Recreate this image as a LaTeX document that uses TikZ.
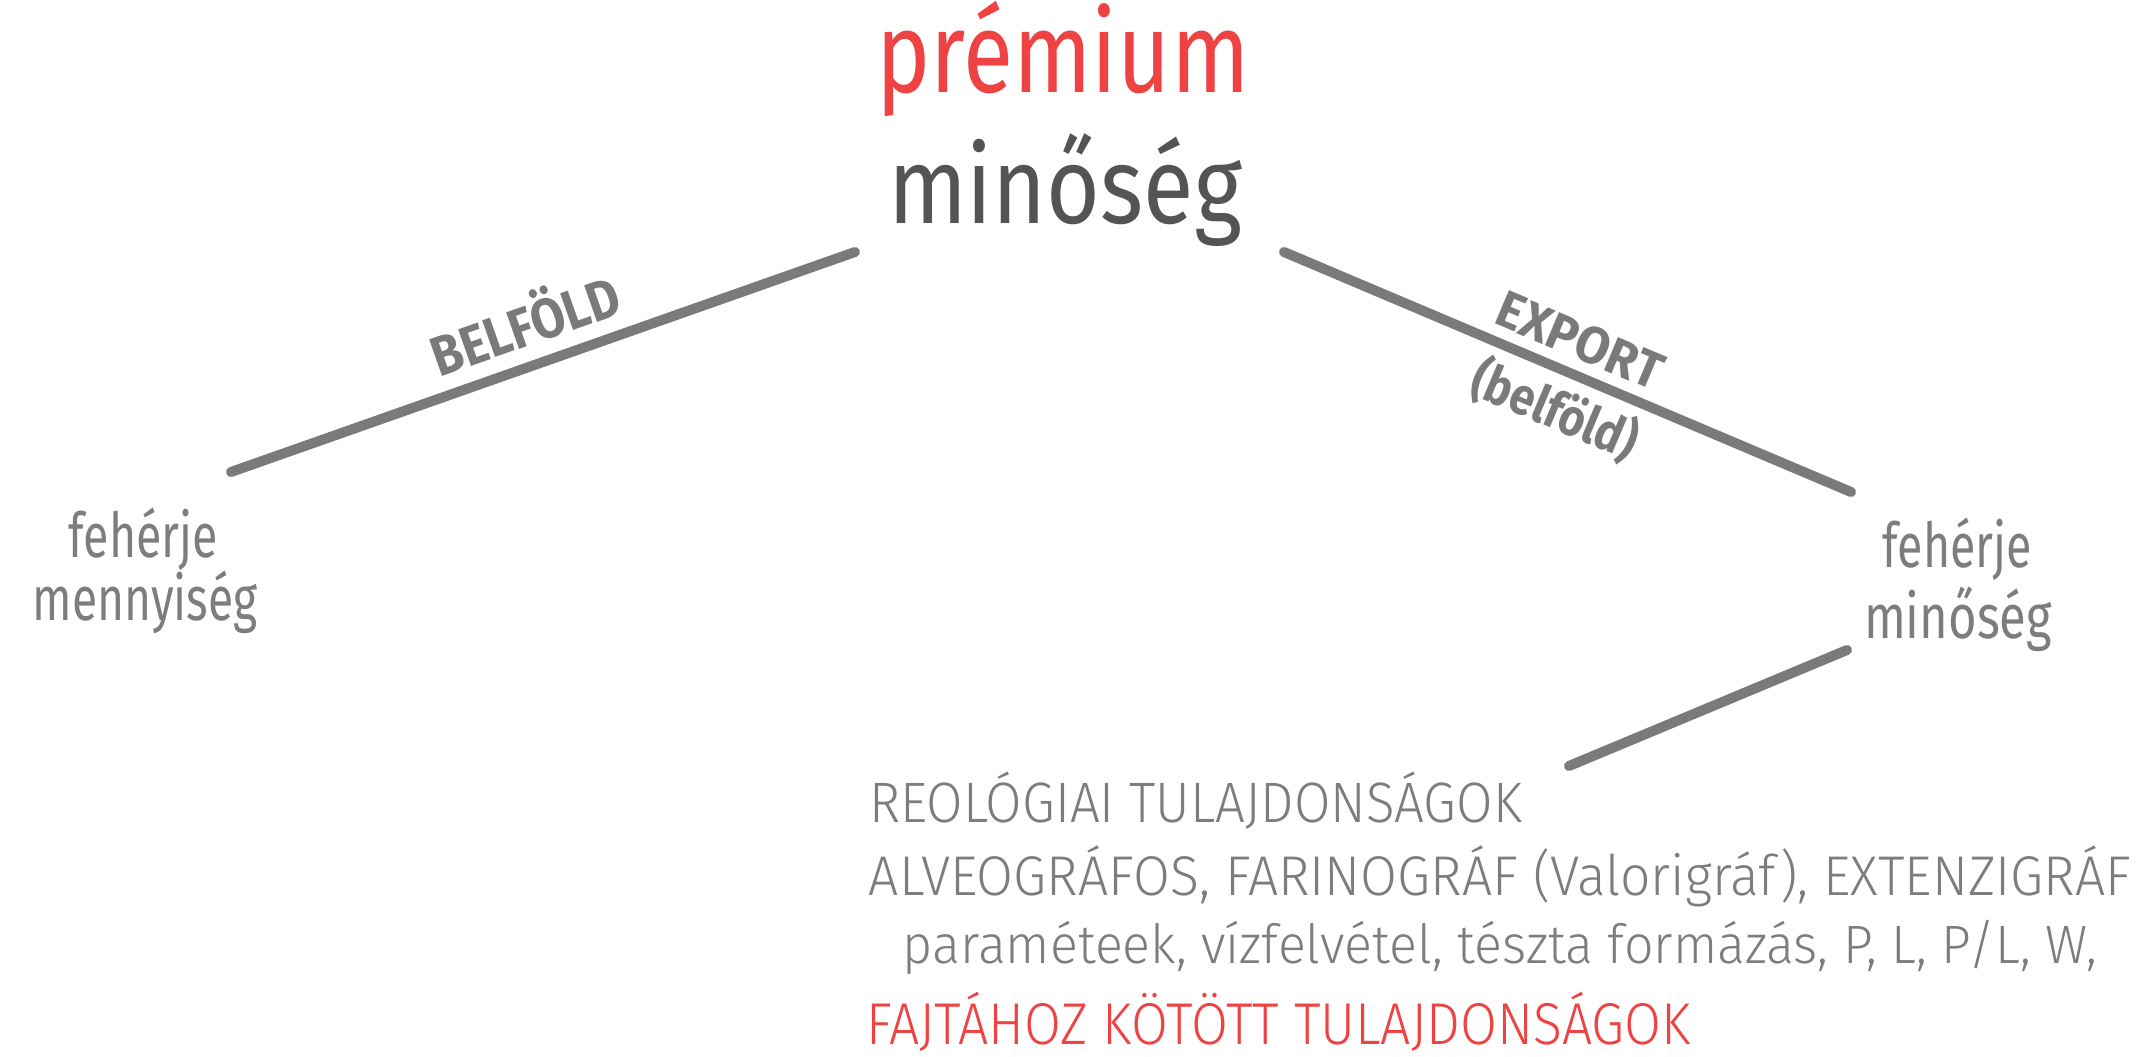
\documentclass[tikz,border=0pt]{standalone}
\usepackage{fontspec}
\usepackage{graphicx}
\newfontfamily\lightf{Fira Sans Light}
\newfontfamily\regf{Fira Sans}
\definecolor{premred}{HTML}{EF4242}
\definecolor{darkg}{HTML}{545454}
\definecolor{lineg}{HTML}{7A7A7A}
\definecolor{textg}{HTML}{7D7D7D}
\newcommand\myfs[1]{\fontsize{#1pt}{#1pt}\selectfont}
\newcommand\fitw[2]{\resizebox{#1pt}{\height}{#2}}
\tikzset{
  conn/.style={line width=10pt, line cap=round, draw=lineg},
  lbl/.style={inner sep=0pt, outer sep=0pt, anchor=base},
  lblw/.style={inner sep=0pt, outer sep=0pt, anchor=base west},
  thin/.style={font=\lightf, text=textg},
  side/.style={font=\regf, text=textg},
  bold/.style={font=\regf\bfseries, text=lineg}
}
\begin{document}
\begin{tikzpicture}[x=1pt,y=-1pt]
\fill[white] (0,0) rectangle (2156,1057);
\useasboundingbox (0,0) rectangle (2156,1057);
% title
\node[lbl, font=\regf, text=premred] (prem) at (1063,93) {\fitw{373}{\myfs{114}prémium}};
\node[lbl, font=\regf, text=darkg] (minos) at (1065,223) {\fitw{354}{\myfs{108}minőség}};
% connectors
\coordinate (l1a) at (231,472);
\coordinate (l1b) at (855,252);
\coordinate (l2a) at (1284,252);
\coordinate (l2b) at (1851,492);
\coordinate (l3a) at (1847,650);
\coordinate (l3b) at (1569,766);
\draw[conn] (l1a) -- (l1b);
\draw[conn] (l2a) -- (l2b);
\draw[conn] (l3a) -- (l3b);
% line labels
\node[lbl, bold, rotate=19.4] (belf) at (532,345) {\fitw{196}{\myfs{56}BELFÖLD}};
\node[lbl, bold, rotate=-22.9] (exp) at (1573,357) {\fitw{175}{\myfs{52}EXPORT}};
\node[lbl, bold, rotate=-22.9] (expb) at (1548,427) {\fitw{175}{\myfs{52}(belföld)}};
% side labels
\node[lbl, side] (lf1) at (143,557) {\fitw{149}{\myfs{62}fehérje}};
\node[lbl, side] (lf2) at (145,620) {\fitw{225}{\myfs{62}mennyiség}};
\node[lbl, side] (rf1) at (1957,567) {\fitw{149}{\myfs{62}fehérje}};
\node[lbl, side] (rf2) at (1958,638) {\fitw{188}{\myfs{62}minőség}};
% bottom block
\node[lblw, thin] (ba) at (869,822) {\fitw{653}{\myfs{57}REOLÓGIAI TULAJDONSÁGOK}};
\node[lbl, thin] (bb) at (1500,895) {\fitw{1262}{\myfs{56}ALVEOGRÁFOS, FARINOGRÁF (Valorigráf), EXTENZIGRÁF}};
\node[lbl, thin] (bc) at (1500,963) {\fitw{1194}{\myfs{54}paraméteek, vízfelvétel, tészta formázás, P, L, P/L, W,}};
\node[lblw, font=\lightf, text=premred] (bd) at (866,1044) {\fitw{825}{\myfs{59}FAJTÁHOZ KÖTÖTT TULAJDONSÁGOK}};
\end{tikzpicture}
\end{document}
